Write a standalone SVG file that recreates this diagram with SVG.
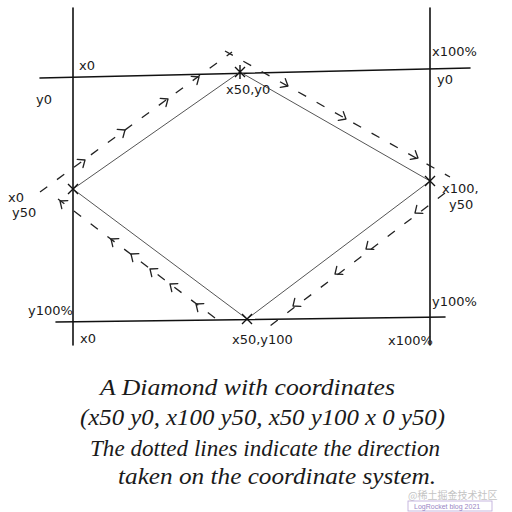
<svg xmlns="http://www.w3.org/2000/svg" xmlns:xlink="http://www.w3.org/1999/xlink" width="512" height="512" viewBox="0 0 512 512">
  <style>
    .frame { stroke: #111; stroke-width: 1.6; fill: none; stroke-linecap: round; }
    .edge { stroke: #555; stroke-width: 1; fill: none; }
    .dash { stroke: #222; stroke-width: 1.3; fill: none; stroke-dasharray: 9 12; }
    .chev { stroke: #222; stroke-width: 1.3; fill: none; stroke-linecap: round; stroke-linejoin: round; }
    .mark { stroke: #111; stroke-width: 1.4; fill: none; }
    .lbl { font-family: "DejaVu Sans", "Liberation Sans", sans-serif; font-size: 13px; fill: #1a1a1a; }
    .note { font-family: "Liberation Serif", "DejaVu Serif", serif; font-style: italic; font-size: 24px; fill: #1a1a1a; }
    .wm { font-family: "Noto Sans CJK SC", sans-serif; font-size: 10px; fill: #c4c4c4; }
  </style>
  <defs>
    <path id="chev" d="M-6,-5 L0,0 L-6,5" class="chev"/>
  </defs>
  <rect width="512" height="512" fill="#fff"/>

  <g id="frame">
    <line class="frame" x1="73" y1="8" x2="73" y2="345"/>
    <line class="frame" x1="430" y1="8" x2="430" y2="345"/>
    <line class="frame" x1="40" y1="78" x2="470" y2="68"/>
    <line class="frame" x1="56" y1="322" x2="445" y2="317"/>
  </g>

  <g id="diamond">
    <polygon class="edge" points="240,72 430,181 247,319 73,189"/>
  </g>

  <g id="connectors">
    <line class="dash" x1="40" y1="192" x2="232" y2="52"/>
    <line class="dash" x1="225" y1="51" x2="450" y2="177"/>
    <line class="dash" x1="445" y1="193" x2="262" y2="332"/>
    <line class="dash" x1="215" y1="318" x2="58" y2="199"/>
    <use xlink:href="#chev" transform="translate(85,160) rotate(-35)"/>
    <use xlink:href="#chev" transform="translate(125,130) rotate(-35)"/>
    <use xlink:href="#chev" transform="translate(168,99) rotate(-35)"/>
    <use xlink:href="#chev" transform="translate(199,77) rotate(-35)"/>
    <use xlink:href="#chev" transform="translate(288,86) rotate(30)"/>
    <use xlink:href="#chev" transform="translate(346,119) rotate(30)"/>
    <use xlink:href="#chev" transform="translate(418,158) rotate(30)"/>
    <use xlink:href="#chev" transform="translate(415,213) rotate(143)"/>
    <use xlink:href="#chev" transform="translate(366,249) rotate(143)"/>
    <use xlink:href="#chev" transform="translate(335,274) rotate(143)"/>
    <use xlink:href="#chev" transform="translate(293,306) rotate(143)"/>
    <use xlink:href="#chev" transform="translate(60,201) rotate(-143)"/>
    <use xlink:href="#chev" transform="translate(111,239) rotate(-143)"/>
    <use xlink:href="#chev" transform="translate(131,254) rotate(-143)"/>
    <use xlink:href="#chev" transform="translate(150,269) rotate(-143)"/>
    <use xlink:href="#chev" transform="translate(170,284) rotate(-143)"/>
    <use xlink:href="#chev" transform="translate(196,304) rotate(-143)"/>
  </g>

  <g id="node-top">
    <path class="mark" d="M235,67 L245,77 M245,67 L235,77 M240,65 L240,79"/>
    <text class="lbl" x="226" y="94">x50,y0</text>
  </g>
  <g id="node-right">
    <path class="mark" d="M425,176 L435,186 M435,176 L425,186"/>
    <text class="lbl" x="442" y="193">x100,</text>
    <text class="lbl" x="449" y="209">y50</text>
  </g>
  <g id="node-bottom">
    <path class="mark" d="M242,314 L252,324 M252,314 L242,324"/>
    <text class="lbl" x="232" y="344">x50,y100</text>
  </g>
  <g id="node-left">
    <path class="mark" d="M68,184 L78,194 M78,184 L68,194"/>
    <text class="lbl" x="8" y="202">x0</text>
    <text class="lbl" x="12" y="217">y50</text>
  </g>

  <g id="corner-labels">
    <text class="lbl" x="79" y="70">x0</text>
    <text class="lbl" x="36" y="104">y0</text>
    <text class="lbl" x="432" y="56">x100%</text>
    <text class="lbl" x="437" y="84">y0</text>
    <text class="lbl" x="28" y="315">y100%</text>
    <text class="lbl" x="432" y="306">y100%</text>
    <text class="lbl" x="80" y="343">x0</text>
    <text class="lbl" x="388" y="345">x100%</text>
  </g>

  <g id="caption">
    <text class="note" x="100" y="395" textLength="295" lengthAdjust="spacingAndGlyphs">A Diamond with coordinates</text>
    <text class="note" x="80" y="425" textLength="365" lengthAdjust="spacingAndGlyphs">(x50 y0, x100 y50, x50 y100 x 0 y50)</text>
    <text class="note" x="90" y="456" textLength="350" lengthAdjust="spacingAndGlyphs">The dotted lines indicate the direction</text>
    <text class="note" x="118" y="484" textLength="318" lengthAdjust="spacingAndGlyphs">taken on the coordinate system.</text>
  </g>

  <g id="watermark">
    <text class="wm" x="408" y="499">@稀土掘金技术社区</text>
    <rect x="408" y="501" width="84" height="10" fill="none" stroke="#b9a6d8" stroke-width="0.8"/>
    <text x="414" y="509" font-family="Liberation Sans, sans-serif" font-size="7" fill="#9a86c4">LogRocket blog 2021</text>
  </g>
</svg>
